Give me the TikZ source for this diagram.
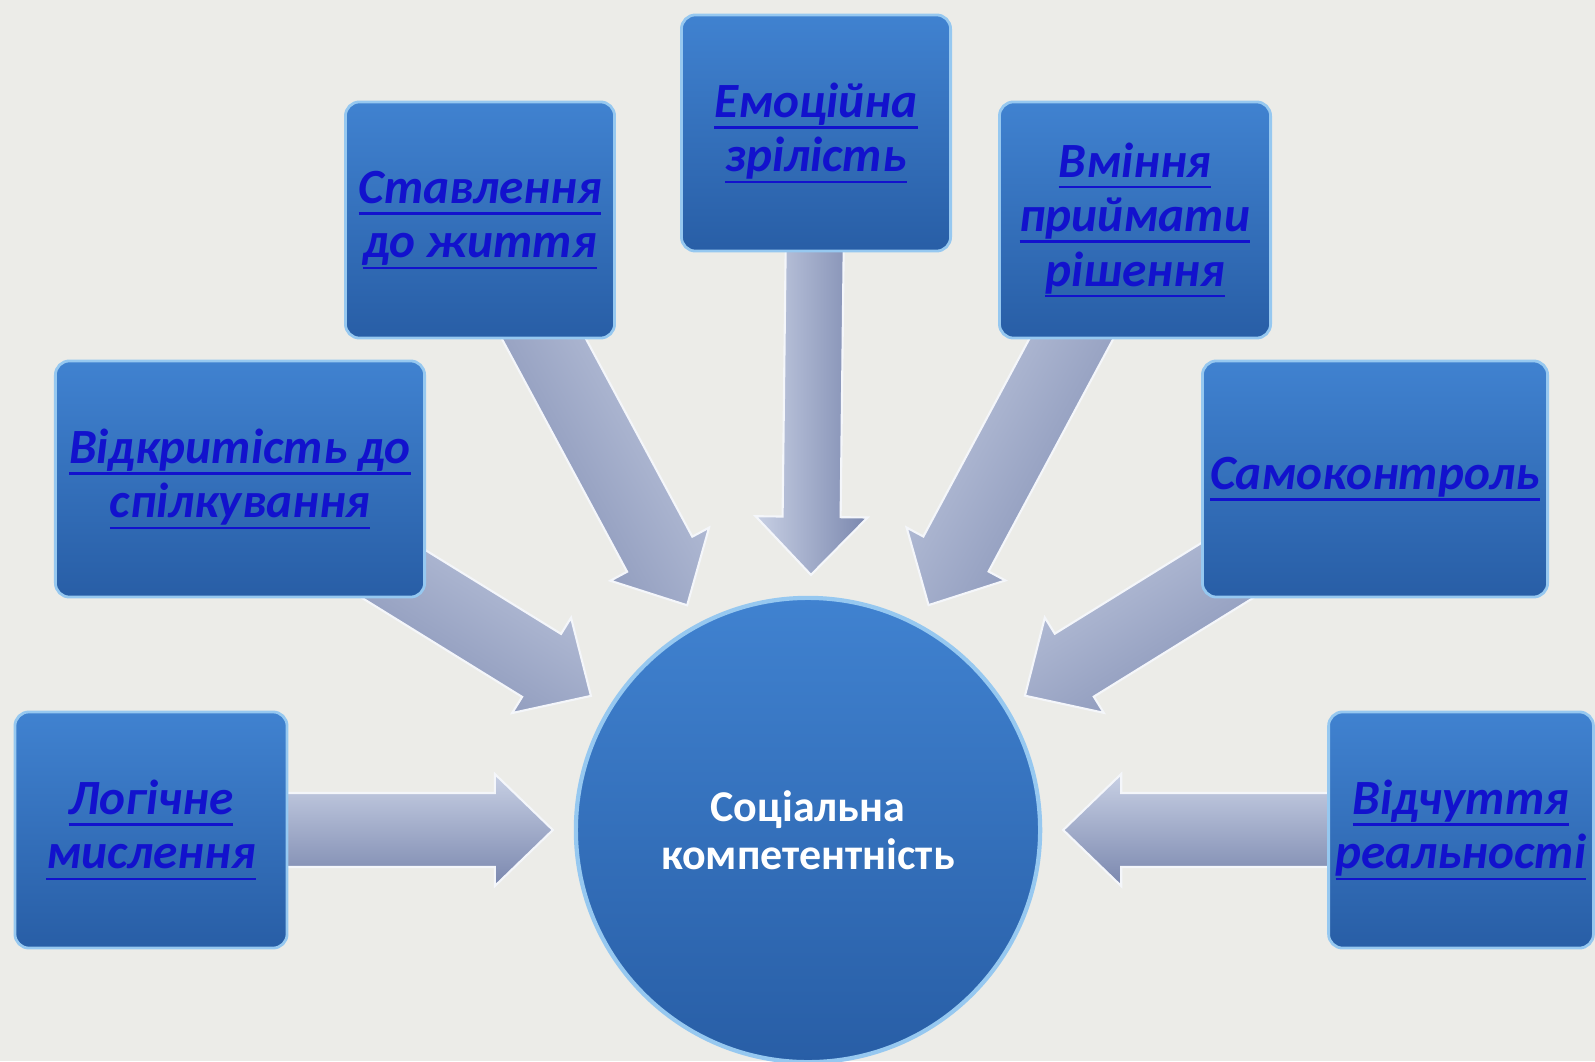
\documentclass[tikz,border=0pt]{standalone}
\usepackage{fontspec}
\setmainfont{Carlito}
\usetikzlibrary{calc,backgrounds}
\definecolor{bgstone}{RGB}{236,236,232}
\definecolor{boxtop}{RGB}{64,130,208}
\definecolor{boxbot}{RGB}{40,94,166}
\definecolor{boxrim}{RGB}{150,200,240}
\definecolor{linkblue}{RGB}{18,18,205}
\definecolor{arrlight}{RGB}{200,208,228}
\definecolor{arrdark}{RGB}{122,135,174}

% underlined link-like text
\newcommand\lnk[1]{\setbox0\hbox{#1}\rlap{\rule[-3.2pt]{\wd0}{0.7pt}}\box0}
% block arrow from a box to the circle: #1 box, #2 half shaft width, #3 shading angle
\newcommand\blockarrow[3]{%
  \coordinate (tip) at ($(soc)!2.55cm!(#1)$);
  \coordinate (hb) at ($(tip)!0.58cm!(#1)$);
  \path[arr,shading angle=#3] ($(#1)!#2!90:(tip)$) -- ($(hb)!#2!90:(tip)$)
    -- ($(hb)!0.56cm!90:(tip)$) -- (tip) -- ($(hb)!0.56cm!-90:(tip)$)
    -- ($(hb)!#2!-90:(tip)$) -- ($(#1)!#2!-90:(tip)$) -- cycle;}

\begin{document}
\begin{tikzpicture}[x=0.01cm,y=-0.01cm,
  box/.style={rectangle,rounded corners=4pt,minimum height=2.36cm,inner sep=2pt,
    draw=boxrim,line width=0.8pt,top color=boxtop,bottom color=boxbot,
    text=linkblue,align=center,font=\bfseries\itshape\fontsize{14}{15.5}\selectfont},
  arr/.style={top color=arrlight,bottom color=arrdark,draw=white!80!arrlight,line width=0.6pt}]
\useasboundingbox (0,0) rectangle (1595,1061);
\node[box,minimum width=2.72cm] (log) at (151,830) {\lnk{Логічне}\\\lnk{мислення}};
\node[box,minimum width=3.69cm] (vidk) at (240,479) {\lnk{Відкритість до}\\\lnk{спілкування}};
\node[box,minimum width=2.69cm] (stav) at (480,220) {\lnk{Ставлення}\\\lnk{до життя}};
\node[box,minimum width=2.69cm] (emoc) at (816,133) {\lnk{Емоційна}\\\lnk{зрілість}};
\node[box,minimum width=2.71cm] (vmin) at (1135,220) {\lnk{Вміння}\\\lnk{приймати}\\\lnk{рішення}};
\node[box,minimum width=3.45cm] (samo) at (1375,479) {\lnk{Самоконтроль}};
\node[box,minimum width=2.62cm] (vidch) at (1461,830) {\lnk{Відчуття}\\\lnk{реальності}};
\node[circle,minimum size=4.64cm,draw=boxrim,line width=1.2pt,top color=boxtop,bottom color=boxbot,
  text=white,align=center,font=\bfseries\fontsize{12.5}{13.5}\selectfont] (soc) at (808,830)
  {Соціальна\\компетентність};
\begin{scope}[on background layer]
\fill[bgstone] (0,0) rectangle (1595,1061);
\blockarrow{log}{0.37cm}{0}
\blockarrow{vidk}{0.37cm}{-32}
\blockarrow{stav}{0.37cm}{-61}
\blockarrow{emoc}{0.29cm}{90}
\blockarrow{vmin}{0.37cm}{61}
\blockarrow{samo}{0.37cm}{32}
\blockarrow{vidch}{0.37cm}{0}
\end{scope}
\end{tikzpicture}
\end{document}
